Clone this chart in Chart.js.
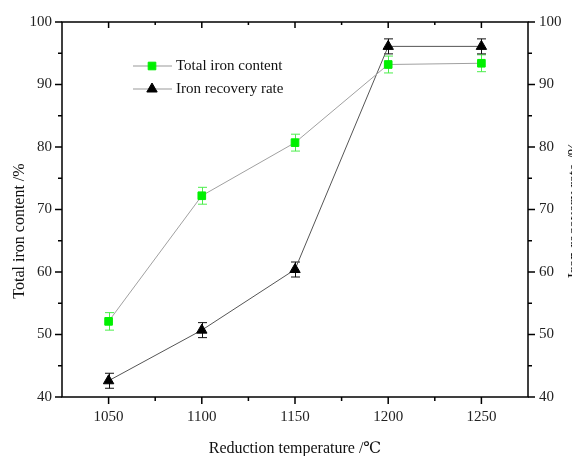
<!DOCTYPE html>
<html>
<head>
<meta charset="utf-8">
<script src="https://cdn.jsdelivr.net/npm/chart.js"></script>
<style>
  html, body { margin: 0; padding: 0; background: #fff; overflow: hidden; }
  #wrap { width: 572px; height: 456px; overflow: hidden; }
</style>
</head>
<body>
<div id="wrap"><canvas id="lineChart" width="590" height="456"></canvas></div>
<script>
var temps = [1050, 1100, 1150, 1200, 1250];
var minorTemps = [1075, 1125, 1175, 1225];
var ironContent = [52.1, 72.2, 80.7, 93.2, 93.4];
var ironContentErr = [1.4, 1.35, 1.35, 1.35, 1.35];
var recoveryRate = [42.6, 50.7, 60.4, 96.1, 96.1];
var recoveryRateErr = [1.2, 1.2, 1.2, 1.2, 1.2];
var yTicks = [40, 50, 60, 70, 80, 90, 100];
var yMinorTicks = [45, 55, 65, 75, 85, 95];

var serif = "'Liberation Serif', 'DejaVu Serif', serif";

function points(values) {
  var out = [];
  for (var i = 0; i < temps.length; i++) {
    out.push({x: temps[i], y: values[i]});
  }
  return out;
}

// frame, ticks, error bars, legend and axis titles
var origin = {
  id: 'origin',
  beforeDatasetsDraw: function(chart) {
    var ctx = chart.ctx;
    var x = chart.scales.x;
    chart.data.datasets.forEach(function(ds, i) {
      var y = chart.scales[ds.yAxisID];
      ctx.save();
      ctx.strokeStyle = ds.errColor;
      ctx.lineWidth = 1;
      for (var k = 0; k < ds.data.length; k++) {
        var px = Math.round(x.getPixelForValue(ds.data[k].x)) + 0.5;
        var top = y.getPixelForValue(ds.data[k].y + ds.err[k]);
        var bot = y.getPixelForValue(ds.data[k].y - ds.err[k]);
        ctx.beginPath();
        ctx.moveTo(px, top); ctx.lineTo(px, bot);
        ctx.moveTo(px - 4.5, top); ctx.lineTo(px + 4.5, top);
        ctx.moveTo(px - 4.5, bot); ctx.lineTo(px + 4.5, bot);
        ctx.stroke();
      }
      ctx.restore();
    });
  },
  afterDraw: function(chart) {
    var ctx = chart.ctx;
    var a = chart.chartArea;
    var x = chart.scales.x;
    var y = chart.scales.y;
    ctx.save();
    ctx.strokeStyle = '#000';
    ctx.lineWidth = 1.5;
    ctx.strokeRect(a.left, a.top, a.right - a.left, a.bottom - a.top);

    function xt(v, len) {
      var px = x.getPixelForValue(v);
      ctx.beginPath();
      ctx.moveTo(px, a.bottom); ctx.lineTo(px, a.bottom + len);
      ctx.moveTo(px, a.top); ctx.lineTo(px, a.top + len - 1);
      ctx.stroke();
    }
    function yt(v, len) {
      var py = y.getPixelForValue(v);
      ctx.beginPath();
      ctx.moveTo(a.left, py); ctx.lineTo(a.left - len, py);
      ctx.moveTo(a.right, py); ctx.lineTo(a.right + len, py);
      ctx.stroke();
    }
    temps.forEach(function(v) { xt(v, 7); });
    minorTemps.forEach(function(v) { xt(v, 4); });
    yTicks.forEach(function(v) { yt(v, 7); });
    yMinorTicks.forEach(function(v) { yt(v, 4); });

    // legend
    var lx = a.left + 71, ly = a.top + 44;
    chart.data.datasets.forEach(function(ds, i) {
      var ry = ly + i * 23;
      ctx.strokeStyle = '#999';
      ctx.lineWidth = 1.2;
      ctx.beginPath();
      ctx.moveTo(lx, ry); ctx.lineTo(lx + 39, ry);
      ctx.stroke();
      ctx.fillStyle = ds.pointBackgroundColor;
      ctx.strokeStyle = ds.pointBorderColor;
      ctx.lineWidth = 1;
      Chart.helpers.drawPoint(ctx, {pointStyle: ds.pointStyle, radius: ds.pointRadius, rotation: 0, borderWidth: 1}, lx + 19, ry);
      ctx.fillStyle = '#111';
      ctx.font = '15px ' + serif;
      ctx.textAlign = 'left';
      ctx.textBaseline = 'middle';
      ctx.fillText(ds.label, lx + 43, ry);
    });

    // axis titles
    ctx.fillStyle = '#111';
    ctx.font = '16px ' + serif;
    ctx.textAlign = 'center';
    ctx.textBaseline = 'alphabetic';
    ctx.fillText('Reduction temperature /℃', (a.left + a.right) / 2, 453);

    ctx.save();
    ctx.translate(24, 231);
    ctx.rotate(-Math.PI / 2);
    ctx.fillText('Total iron content /%', 0, 0);
    ctx.restore();

    ctx.save();
    ctx.translate(579, 210);
    ctx.rotate(-Math.PI / 2);
    ctx.fillText('Iron recovery rate /%', 0, 0);
    ctx.restore();
    ctx.restore();
  }
};

var tickFont = {family: serif, size: 15};

function plain(value) {
  return String(value);
}

var ctx = document.getElementById('lineChart');
var myLineChart = new Chart(ctx, {
  type: 'line',
  data: {
    datasets: [{
      label: 'Total iron content',
      data: points(ironContent),
      err: ironContentErr,
      errColor: '#4cee4c',
      yAxisID: 'y',
      borderColor: '#a0a0a0',
      borderWidth: 1,
      pointStyle: 'rect',
      pointRadius: 5.4,
      pointBackgroundColor: '#00f000',
      pointBorderColor: '#00f000',
      pointBorderWidth: 1
    }, {
      label: 'Iron recovery rate',
      data: points(recoveryRate),
      err: recoveryRateErr,
      errColor: '#111',
      yAxisID: 'y2',
      borderColor: '#555',
      borderWidth: 1,
      pointStyle: 'triangle',
      pointRadius: 6,
      pointBackgroundColor: '#000',
      pointBorderColor: '#000',
      pointBorderWidth: 1
    }]
  },
  options: {
    responsive: false,
    animation: false,
    layout: {padding: {top: 22, left: 0, right: 0, bottom: 0}},
    plugins: {legend: {display: false}, tooltip: {enabled: false}},
    scales: {
      x: {
        type: 'linear',
        min: 1025,
        max: 1275,
        grid: {display: false, drawTicks: false},
        border: {display: false},
        afterBuildTicks: function(scale) {
          scale.ticks = temps.map(function(v) { return {value: v}; });
        },
        afterFit: function(scale) { scale.height = 59; },
        ticks: {font: tickFont, color: '#222', padding: 11, maxRotation: 0, callback: plain}
      },
      y: {
        position: 'left',
        min: 40,
        max: 100,
        grid: {display: false, drawTicks: false},
        border: {display: false},
        afterBuildTicks: function(scale) {
          scale.ticks = yTicks.map(function(v) { return {value: v}; });
        },
        afterFit: function(scale) { scale.width = 62; },
        ticks: {font: tickFont, color: '#222', padding: 10, callback: plain}
      },
      y2: {
        position: 'right',
        min: 40,
        max: 100,
        grid: {display: false, drawTicks: false},
        border: {display: false},
        afterBuildTicks: function(scale) {
          scale.ticks = yTicks.map(function(v) { return {value: v}; });
        },
        afterFit: function(scale) { scale.width = 62; },
        ticks: {font: tickFont, color: '#222', padding: 11, callback: plain}
      }
    }
  },
  plugins: [origin]
});
</script>
</body>
</html>
